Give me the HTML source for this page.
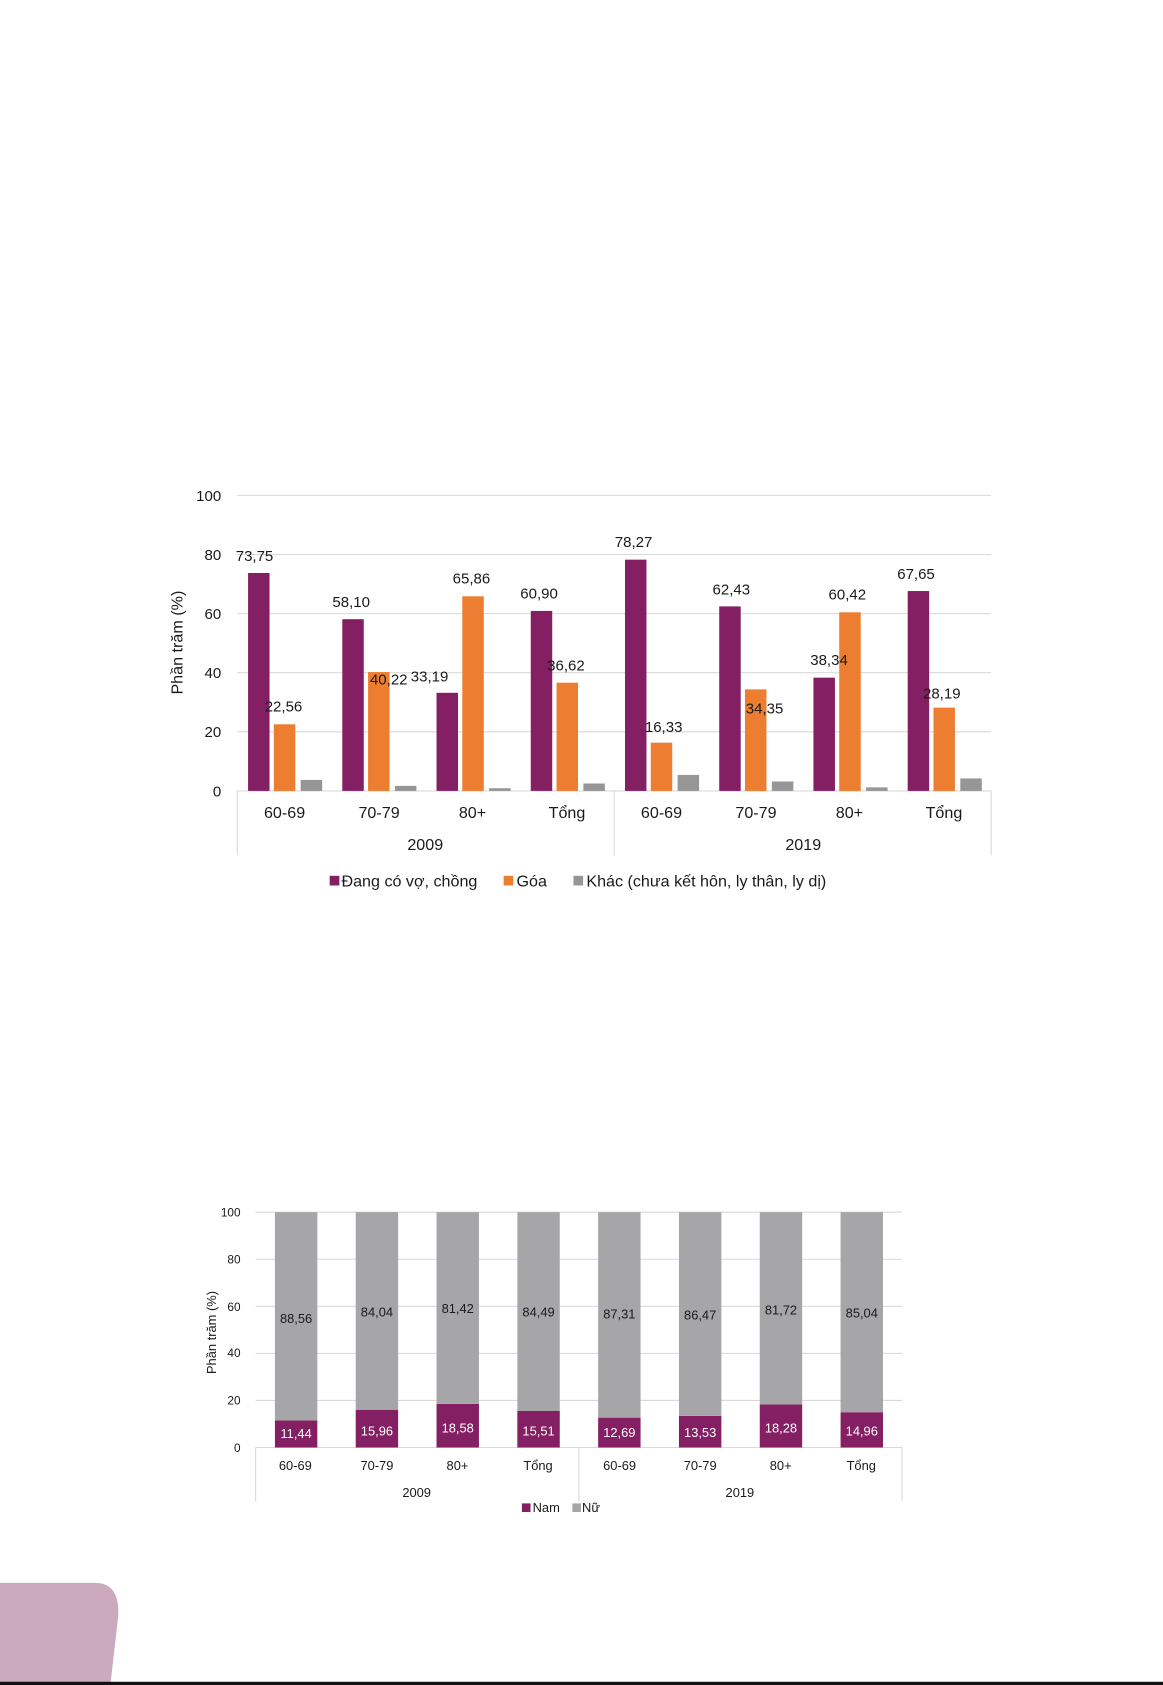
<!DOCTYPE html>
<html><head><meta charset="utf-8"><style>
html,body{margin:0;padding:0;background:#fff;}
svg{display:block;}
text{font-family:"Liberation Sans Narrow","Liberation Sans","DejaVu Sans",sans-serif;fill:#1a1a1a;}
text.w{fill:#fff;}
</style></head><body>
<svg width="1163" height="1685" viewBox="0 0 1083 1568" preserveAspectRatio="none" xmlns="http://www.w3.org/2000/svg">
<rect width="1083" height="1568" fill="#fff"/>
<!-- Chart 1 -->
<g stroke="#d9d9d9" stroke-width="1">
<line x1="221" y1="461" x2="923" y2="461"/><line x1="221" y1="516" x2="923" y2="516"/>
<line x1="221" y1="571" x2="923" y2="571"/><line x1="221" y1="626" x2="923" y2="626"/>
<line x1="221" y1="681" x2="923" y2="681"/>
<line x1="221" y1="736" x2="923" y2="736"/>
<line x1="221" y1="736" x2="221" y2="796"/><line x1="572" y1="736" x2="572" y2="796"/><line x1="923" y1="736" x2="923" y2="796"/>
</g>
<g font-size="14" text-anchor="end">
<text x="206" y="466">100</text><text x="206" y="521">80</text><text x="206" y="576">60</text>
<text x="206" y="631">40</text><text x="206" y="686">20</text><text x="206" y="741">0</text>
</g>
<text transform="translate(170,598) rotate(-90)" font-size="15" text-anchor="middle" style="font-family:'Liberation Sans',sans-serif">Phần trăm (%)</text>
<g fill="#841f63">
<rect x="231" y="533.2" width="20" height="202.8"/><rect x="318.75" y="576.2" width="20" height="159.8"/>
<rect x="406.5" y="644.7" width="20" height="91.3"/><rect x="494.25" y="568.5" width="20" height="167.5"/>
<rect x="582" y="520.8" width="20" height="215.2"/><rect x="669.75" y="564.3" width="20" height="171.7"/>
<rect x="757.5" y="630.6" width="20" height="105.4"/><rect x="845.25" y="550" width="20" height="186"/>
</g>
<g fill="#ed7d31">
<rect x="255" y="674" width="20" height="62"/><rect x="342.75" y="625.4" width="20" height="110.6"/>
<rect x="430.5" y="554.9" width="20" height="181.1"/><rect x="518.25" y="635.3" width="20" height="100.7"/>
<rect x="606" y="691.1" width="20" height="44.9"/><rect x="693.75" y="641.5" width="20" height="94.5"/>
<rect x="781.5" y="569.8" width="20" height="166.2"/><rect x="869.25" y="658.5" width="20" height="77.5"/>
</g>
<g fill="#969696">
<rect x="280" y="725.8" width="20" height="10.2"/><rect x="367.75" y="731.3" width="20" height="4.7"/>
<rect x="455.5" y="733.5" width="20" height="2.5"/><rect x="543.25" y="729.1" width="20" height="6.9"/>
<rect x="631" y="721.1" width="20" height="14.9"/><rect x="718.75" y="727.2" width="20" height="8.8"/>
<rect x="806.5" y="732.7" width="20" height="3.3"/><rect x="894.25" y="724.4" width="20" height="11.6"/>
</g>
<g font-size="14" text-anchor="middle">
<text x="237" y="522">73,75</text><text x="327" y="565">58,10</text><text x="400" y="634">33,19</text><text x="502" y="557">60,90</text>
<text x="590" y="509">78,27</text><text x="681" y="553">62,43</text><text x="772" y="619">38,34</text><text x="853" y="539">67,65</text>
<text x="264" y="662">22,56</text><text x="362" y="637">40,22</text><text x="439" y="543">65,86</text><text x="527" y="624">36,62</text>
<text x="618" y="681">16,33</text><text x="712" y="664">34,35</text><text x="789" y="558">60,42</text><text x="877" y="650">28,19</text>
</g>
<g font-size="15" text-anchor="middle">
<text x="265" y="761">60-69</text><text x="353" y="761">70-79</text><text x="440" y="761">80+</text><text x="528" y="761">Tổng</text>
<text x="616" y="761">60-69</text><text x="704" y="761">70-79</text><text x="791" y="761">80+</text><text x="879" y="761">Tổng</text>
<text x="396" y="791">2009</text><text x="748" y="791">2019</text>
</g>
<rect x="307" y="815" width="9" height="9" fill="#841f63"/><text x="318" y="825" font-size="15">Đang có vợ, chồng</text>
<rect x="469" y="815" width="9" height="9" fill="#ed7d31"/><text x="481" y="825" font-size="15">Góa</text>
<rect x="534" y="815" width="9" height="9" fill="#969696"/><text x="546" y="825" font-size="15">Khác (chưa kết hôn, ly thân, ly dị)</text>

<!-- Chart 2 -->
<g stroke="#d9d9d9" stroke-width="1">
<line x1="238" y1="1128" x2="840" y2="1128"/><line x1="238" y1="1171.8" x2="840" y2="1171.8"/>
<line x1="238" y1="1215.6" x2="840" y2="1215.6"/><line x1="238" y1="1259.4" x2="840" y2="1259.4"/>
<line x1="238" y1="1303.2" x2="840" y2="1303.2"/><line x1="238" y1="1347" x2="840" y2="1347"/>
<line x1="238" y1="1347" x2="238" y2="1397"/><line x1="539" y1="1347" x2="539" y2="1397"/><line x1="840" y1="1347" x2="840" y2="1397"/>
</g>
<g font-size="11" text-anchor="end">
<text x="224" y="1132">100</text><text x="224" y="1176">80</text><text x="224" y="1220">60</text>
<text x="224" y="1263">40</text><text x="224" y="1307">20</text><text x="224" y="1351">0</text>
</g>
<text transform="translate(201,1240) rotate(-90)" font-size="12" text-anchor="middle" style="font-family:'Liberation Sans',sans-serif">Phần trăm (%)</text>
<g fill="#a6a6a8">
<rect x="256" y="1128" width="39.5" height="194"/><rect x="331.25" y="1128" width="39.5" height="184"/>
<rect x="406.5" y="1128" width="39.5" height="178"/><rect x="481.75" y="1128" width="39.5" height="185"/>
<rect x="557" y="1128" width="39.5" height="191"/><rect x="632.25" y="1128" width="39.5" height="189"/>
<rect x="707.5" y="1128" width="39.5" height="179"/><rect x="782.75" y="1128" width="39.5" height="186"/>
</g>
<g fill="#841f63">
<rect x="256" y="1321.9" width="39.5" height="25.1"/><rect x="331.25" y="1312" width="39.5" height="35"/>
<rect x="406.5" y="1306.3" width="39.5" height="40.7"/><rect x="481.75" y="1313" width="39.5" height="34"/>
<rect x="557" y="1319.2" width="39.5" height="27.8"/><rect x="632.25" y="1317.4" width="39.5" height="29.6"/>
<rect x="707.5" y="1307" width="39.5" height="40"/><rect x="782.75" y="1314.2" width="39.5" height="32.8"/>
</g>
<g font-size="12" text-anchor="middle">
<text x="275.75" y="1231">88,56</text><text x="351" y="1225">84,04</text><text x="426.25" y="1222">81,42</text><text x="501.5" y="1225">84,49</text>
<text x="576.75" y="1227">87,31</text><text x="652" y="1228">86,47</text><text x="727.25" y="1223">81,72</text><text x="802.5" y="1226">85,04</text>
</g>
<g font-size="12" text-anchor="middle">
<text class="w" x="275.75" y="1338">11,44</text><text class="w" x="351" y="1336">15,96</text><text class="w" x="426.25" y="1333">18,58</text><text class="w" x="501.5" y="1336">15,51</text>
<text class="w" x="576.75" y="1337">12,69</text><text class="w" x="652" y="1337">13,53</text><text class="w" x="727.25" y="1333">18,28</text><text class="w" x="802.5" y="1336">14,96</text>
</g>
<g font-size="12" text-anchor="middle">
<text x="275" y="1368">60-69</text><text x="351" y="1368">70-79</text><text x="426" y="1368">80+</text><text x="501" y="1368">Tổng</text>
<text x="577" y="1368">60-69</text><text x="652" y="1368">70-79</text><text x="727" y="1368">80+</text><text x="802" y="1368">Tổng</text>
<text x="388" y="1393">2009</text><text x="689" y="1393">2019</text>
</g>
<rect x="486" y="1399" width="8" height="8" fill="#841f63"/><text x="496" y="1407" font-size="12">Nam</text>
<rect x="533" y="1399" width="8" height="8" fill="#a6a6a8"/><text x="542" y="1407" font-size="12">Nữ</text>

<!-- bottom decoration -->
<path d="M0,1473 L90,1473 Q112,1474 110,1505 L103,1566 L0,1566 Z" fill="#cbaabd"/>
<rect x="0" y="1565" width="1083" height="3" fill="#111"/>
</svg>
</body></html>
